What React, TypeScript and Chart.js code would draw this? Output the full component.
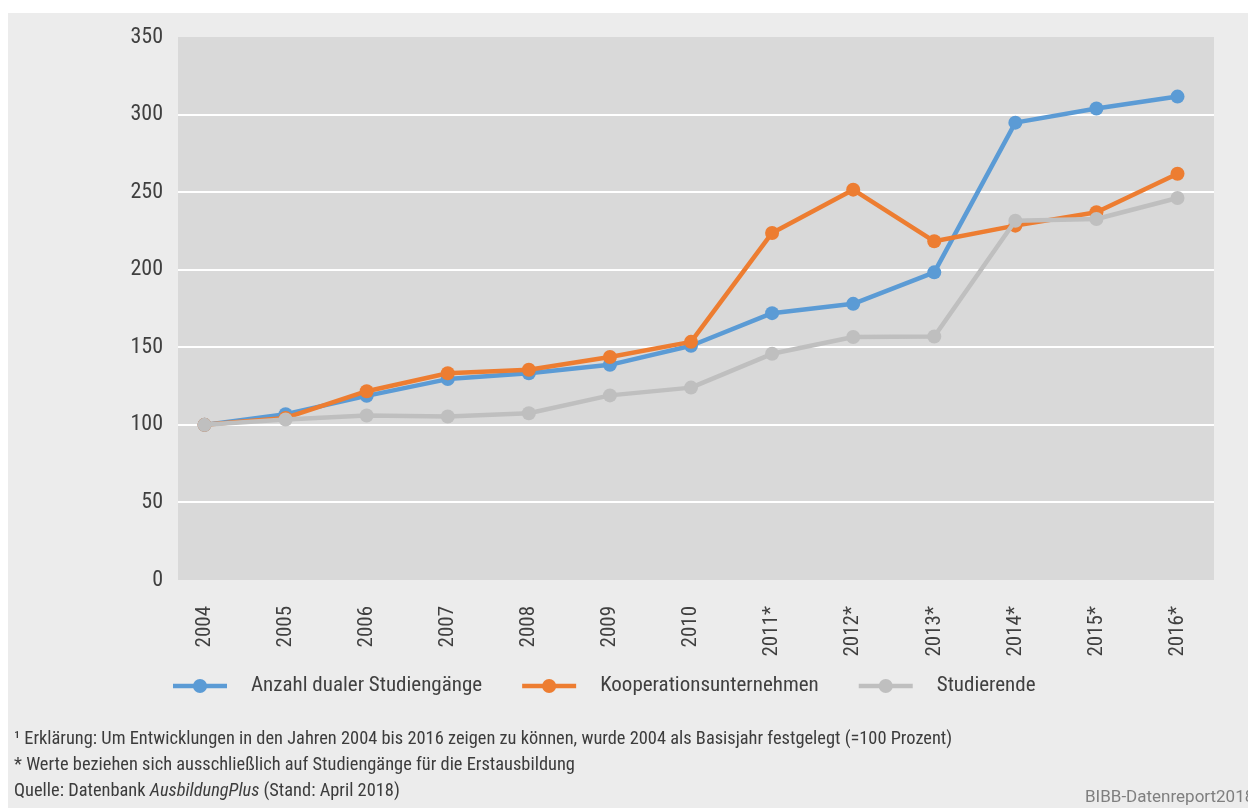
import React, { useEffect, useRef } from "react";
import { Chart, registerables } from "chart.js";

Chart.register(...registerables);

const years = [2004, 2005, 2006, 2007, 2008, 2009, 2010, 2011, 2012, 2013, 2014, 2015, 2016];
const yearLabels = ["2004", "2005", "2006", "2007", "2008", "2009", "2010", "2011*", "2012*", "2013*", "2014*", "2015*", "2016*"];
const studiengaenge = [100, 106.9, 118.7, 129.5, 133.3, 138.7, 151, 172, 178, 198.3, 294.8, 303.9, 311.6];
const kooperation = [100, 104.5, 121.7, 133.3, 135.5, 143.7, 153.5, 223.7, 251.6, 218.3, 228.4, 237, 261.9];
const studierende = [100, 103.5, 106, 105.4, 107.5, 119, 124, 145.8, 156.6, 157, 231.6, 232.7, 246.2];
const seriesNames = ["Anzahl dualer Studiengänge", "Kooperationsunternehmen", "Studierende"];
const seriesColors = ["#5b9bd5", "#ed7d31", "#bfbfbf"];
const yTicks = [0, 50, 100, 150, 200, 250, 300, 350];

const FONT = "'Roboto Condensed', 'Liberation Sans', sans-serif";
const TEXT = "#404040";

const plotBg = {
  id: "plotBg",
  beforeDraw(chart: any) {
    const { ctx, chartArea } = chart;
    ctx.save();
    ctx.fillStyle = "#d9d9d9";
    ctx.fillRect(chartArea.left, chartArea.top, chartArea.right - chartArea.left, chartArea.bottom - chartArea.top);
    ctx.restore();
  },
};

const customLegend = {
  id: "customLegend",
  afterDraw(chart: any) {
    const ctx = chart.ctx;
    ctx.save();
    ctx.font = `21px ${FONT}`;
    ctx.textBaseline = "middle";
    ctx.textAlign = "left";
    let x = 165;
    const y = 673;
    chart.data.datasets.forEach((ds: any) => {
      ctx.strokeStyle = ds.borderColor;
      ctx.lineWidth = 4.5;
      ctx.beginPath();
      ctx.moveTo(x, y);
      ctx.lineTo(x + 54, y);
      ctx.stroke();
      ctx.fillStyle = ds.borderColor;
      ctx.beginPath();
      ctx.arc(x + 27, y, 7, 0, Math.PI * 2);
      ctx.fill();
      x += 54 + 24;
      ctx.fillStyle = TEXT;
      ctx.fillText(ds.label, x, y);
      x += ctx.measureText(ds.label).width + 40;
    });
    ctx.restore();
  },
};

export default function App() {
  const ref = useRef<HTMLCanvasElement>(null);

  useEffect(() => {
    if (!ref.current) return;
    const series = [studiengaenge, kooperation, studierende];
    const orders = [3, 2, 1];
    const chart = new Chart(ref.current, {
      type: "line",
      data: {
        datasets: series.map((vals, i) => ({
          label: seriesNames[i],
          data: years.map((yr, j) => ({ x: yr, y: vals[j] })),
          borderColor: seriesColors[i],
          backgroundColor: seriesColors[i],
          pointBackgroundColor: seriesColors[i],
          pointBorderWidth: 0,
          pointRadius: 7,
          borderWidth: 4.5,
          tension: 0,
          borderJoinStyle: "round",
          borderCapStyle: "round",
          order: orders[i],
        })),
      },
      options: {
        animation: false,
        responsive: false,
        maintainAspectRatio: false,
        layout: { padding: { left: 0, right: 34, top: 24, bottom: 128 } },
        plugins: {
          legend: { display: false },
          tooltip: { enabled: false },
        },
        scales: {
          x: {
            type: "linear",
            min: 2003.673,
            max: 2016.45,
            afterBuildTicks: (s: any) => {
              s.ticks = years.map((v) => ({ value: v }));
            },
            afterFit: (s: any) => {
              s.height = 100;
              s.paddingLeft = 0;
              s.paddingRight = 0;
            },
            grid: { display: false },
            border: { display: false },
            ticks: {
              autoSkip: false,
              minRotation: 90,
              maxRotation: 90,
              padding: 18,
              color: TEXT,
              font: { family: FONT, size: 21 },
              callback: (v: any) => yearLabels[years.indexOf(Number(v))],
            },
          },
          y: {
            min: 0,
            max: 350,
            afterBuildTicks: (s: any) => {
              s.ticks = yTicks.map((v) => ({ value: v }));
            },
            afterFit: (s: any) => {
              s.width = 170;
              s.paddingTop = 0;
              s.paddingBottom = 0;
            },
            grid: {
              color: (c: any) =>
                c.tick && (c.tick.value === 0 || c.tick.value === 350) ? "rgba(0,0,0,0)" : "#ffffff",
              lineWidth: 2,
              drawTicks: false,
            },
            border: { display: false },
            ticks: {
              padding: 15,
              color: TEXT,
              font: { family: FONT, size: 22 },
            },
          },
        },
      },
      plugins: [plotBg, customLegend],
    } as any);
    return () => chart.destroy();
  }, []);

  const noteStyle: React.CSSProperties = {
    position: "absolute",
    left: 6,
    fontFamily: FONT,
    fontSize: 18.4,
    lineHeight: "18px",
    color: "#3c3c3c",
    whiteSpace: "nowrap",
  };

  return (
    <div
      style={{
        position: "absolute",
        left: 8,
        top: 13,
        width: 1240,
        height: 795,
        background: "#ececec",
        overflow: "hidden",
      }}
    >
      <canvas ref={ref} width={1240} height={795} style={{ display: "block", width: 1240, height: 795 }} />
      <div style={{ ...noteStyle, top: 716 }}>
        ¹ Erklärung: Um Entwicklungen in den Jahren 2004 bis 2016 zeigen zu können, wurde 2004 als Basisjahr festgelegt (=100 Prozent)
      </div>
      <div style={{ ...noteStyle, top: 742 }}>
        * Werte beziehen sich ausschließlich auf Studiengänge für die Erstausbildung
      </div>
      <div style={{ ...noteStyle, top: 768 }}>
        Quelle: Datenbank <i>AusbildungPlus</i> (Stand: April 2018)
      </div>
      <div
        style={{
          ...noteStyle,
          left: 1077,
          top: 774,
          color: "#7f7f7f",
          fontFamily: "Roboto, 'Liberation Sans', sans-serif",
          fontSize: 17,
        }}
      >
        BIBB-Datenreport2018
      </div>
    </div>
  );
}
